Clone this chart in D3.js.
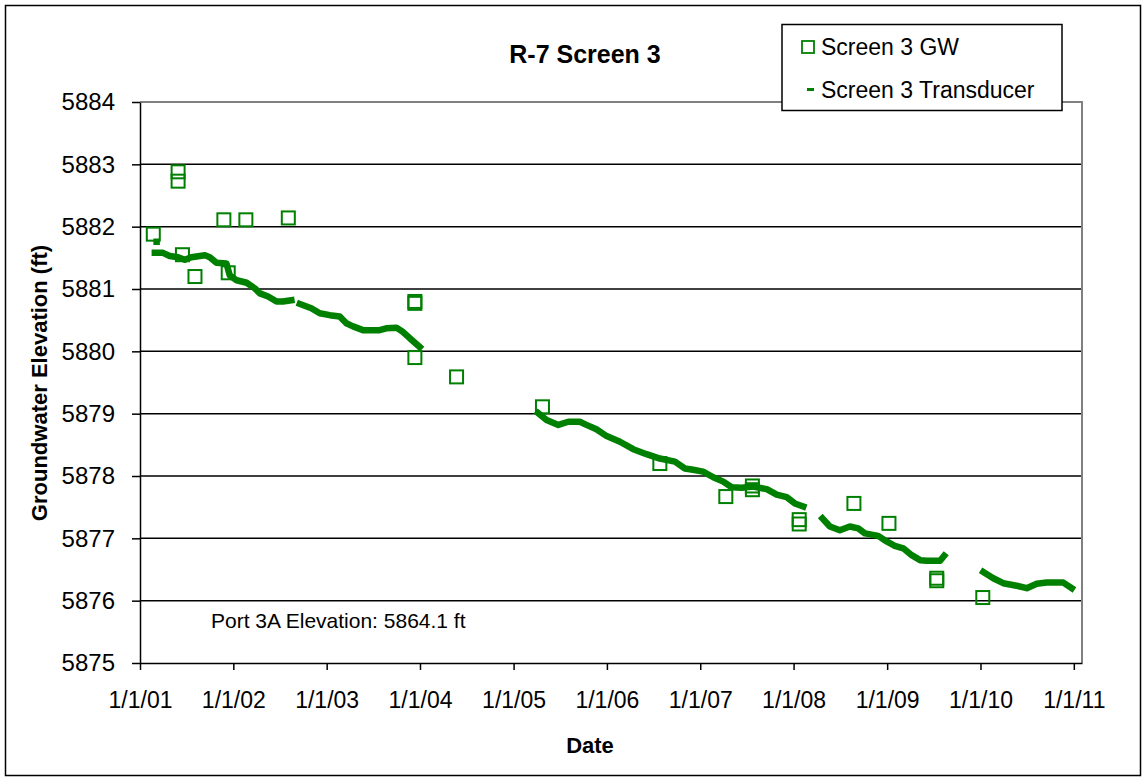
<!DOCTYPE html>
<html>
<head>
<meta charset="utf-8">
<script src="https://cdn.jsdelivr.net/npm/d3@7"></script>
<style>
  body { margin: 0; background: #fff; }
  text { font-family: Arial, "Liberation Sans", sans-serif; fill: #000; }
</style>
</head>
<body>
<svg id="chart" width="1146" height="781"></svg>
<script>
// Screen 3 GW (manual measurements)
const gwDates = ['2001-02-22', '2001-05-30', '2001-05-30', '2001-06-16', '2001-08-04', '2001-11-25',
    '2001-12-12', '2002-02-19', '2002-08-04', '2003-12-12', '2003-12-12', '2003-12-12', '2004-05-23',
    '2005-04-24', '2006-07-27', '2007-04-11', '2007-07-24', '2007-07-24', '2008-01-23', '2008-01-23',
    '2008-08-24', '2009-01-08', '2009-07-14', '2009-07-14', '2010-01-10']
const gwValues = [5881.88, 5882.88, 5882.73, 5881.55, 5881.20, 5882.11,
    5881.26, 5882.11, 5882.14, 5880.80, 5880.77, 5879.90, 5879.59,
    5879.11, 5878.20, 5877.67, 5877.84, 5877.78, 5877.30, 5877.23,
    5877.56, 5877.24, 5876.36, 5876.32, 5876.05]

// Screen 3 Transducer (null = no record)
const tdDates = ['2001-03-07', null,
    '2001-02-28', '2001-04-01', '2001-04-27', '2001-05-30', '2001-06-25', '2001-07-21', '2001-09-12',
    '2001-10-01', '2001-10-27', '2001-12-05', '2001-12-18', '2002-01-14', '2002-02-22', '2002-03-26',
    '2002-04-15', '2002-05-17', '2002-06-19', '2002-07-14', '2002-08-16', null,
    '2002-09-18', '2002-11-02', '2002-12-05', '2003-01-13', '2003-02-21', '2003-03-19', '2003-04-14',
    '2003-05-23', '2003-07-27', '2003-08-22', '2003-10-01', '2003-10-27', '2003-11-22', '2003-12-31', null,
    '2005-04-07', '2005-05-10', '2005-06-25', '2005-08-03', '2005-09-17', '2005-10-13', '2005-11-21',
    '2005-12-31', '2006-02-21', '2006-04-14', '2006-06-05', '2006-07-27', '2006-09-24', '2006-11-02',
    '2006-12-04', '2007-01-12', '2007-02-21', '2007-04-01', '2007-05-04', '2007-06-12', '2007-07-27',
    '2007-09-18', '2007-10-27', '2007-12-05', '2008-01-06', '2008-02-08', null,
    '2008-04-23', '2008-05-22', '2008-06-30', '2008-08-08', '2008-09-10', '2008-10-06', '2008-11-27',
    '2008-12-30', '2009-01-31', '2009-03-05', '2009-04-07', '2009-05-10', '2009-06-05', '2009-07-27',
    '2009-08-12', null,
    '2010-01-12', '2010-02-20', '2010-03-31', '2010-05-22', '2010-07-01', '2010-08-09', '2010-09-17',
    '2010-11-21', '2010-12-24']
const tdValues = [5881.76, null,
    5881.58, 5881.58, 5881.53, 5881.51, 5881.47, 5881.51, 5881.54,
    5881.51, 5881.42, 5881.41, 5881.22, 5881.14, 5881.10, 5881.01,
    5880.93, 5880.88, 5880.80, 5880.80, 5880.82, null,
    5880.76, 5880.69, 5880.61, 5880.58, 5880.56, 5880.45, 5880.40,
    5880.34, 5880.34, 5880.37, 5880.38, 5880.31, 5880.21, 5880.07, null,
    5879.01, 5878.90, 5878.82, 5878.87, 5878.87, 5878.82, 5878.75,
    5878.64, 5878.55, 5878.43, 5878.35, 5878.28, 5878.23, 5878.12,
    5878.10, 5878.07, 5877.98, 5877.91, 5877.82, 5877.81, 5877.83,
    5877.79, 5877.70, 5877.66, 5877.56, 5877.51, null,
    5877.32, 5877.19, 5877.13, 5877.19, 5877.16, 5877.08, 5877.04,
    5876.95, 5876.88, 5876.84, 5876.73, 5876.65, 5876.64, 5876.64,
    5876.72, null,
    5876.46, 5876.36, 5876.28, 5876.24, 5876.20, 5876.27, 5876.29,
    5876.29, 5876.20]

const yTicks = [5875, 5876, 5877, 5878, 5879, 5880, 5881, 5882, 5883, 5884]
const xTickYears = [2001, 2002, 2003, 2004, 2005, 2006, 2007, 2008, 2009, 2010, 2011]
const xStart = '2001-01-01'
const xEnd = '2011-02-02'

const GREEN = '#008000'
const plot = {left: 140, right: 1082, top: 102, bottom: 663}

const parse = d3.timeParse('%Y-%m-%d')
const svg = d3.select('#chart')

const x = d3.scaleTime()
    .domain([parse(xStart), parse(xEnd)])
    .range([plot.left, plot.right])

const y = d3.scaleLinear()
    .domain([yTicks[0], yTicks[yTicks.length - 1]])
    .range([plot.bottom, plot.top])

const gw = gwDates.map(function (d, i) { return {date: parse(d), value: gwValues[i]} })
const td = tdDates.map(function (d, i) { return {date: d ? parse(d) : null, value: tdValues[i]} })

// outer frame
svg.append('rect')
    .attr('x', 5.5).attr('y', 5.5)
    .attr('width', 1135).attr('height', 770)
    .attr('fill', '#fff')
    .attr('stroke', '#000')
    .attr('stroke-width', 1.5)

// gridlines
svg.append('g')
    .selectAll('line')
    .data(yTicks.slice(1, -1))
    .join('line')
    .attr('x1', plot.left).attr('x2', plot.right)
    .attr('y1', function (d) { return y(d) })
    .attr('y2', function (d) { return y(d) })
    .attr('stroke', '#000')
    .attr('stroke-width', 1.5)

// plot border top / right (grey)
svg.append('path')
    .attr('d', 'M' + plot.left + ',' + y(5884) + 'H' + plot.right + 'V' + plot.bottom)
    .attr('fill', 'none')
    .attr('stroke', '#808080')
    .attr('stroke-width', 2)

// axes
const xAxis = svg.append('g')
    .attr('transform', 'translate(0,' + plot.bottom + ')')
    .call(d3.axisBottom(x)
        .tickValues(xTickYears.map(function (yr) { return new Date(yr, 0, 1) }))
        .tickFormat(d3.timeFormat('%-m/%-d/%y'))
        .tickSize(7)
        .tickSizeOuter(0)
        .tickPadding(22))
xAxis.selectAll('text').attr('font-size', '23px').attr('font-family', 'Arial, "Liberation Sans", sans-serif')

const yAxis = svg.append('g')
    .attr('transform', 'translate(' + plot.left + ',0)')
    .call(d3.axisLeft(y)
        .tickValues(yTicks)
        .tickFormat(d3.format('d'))
        .tickSize(8)
        .tickSizeOuter(0)
        .tickPadding(17))
yAxis.selectAll('text').attr('font-size', '24px').attr('font-family', 'Arial, "Liberation Sans", sans-serif')

svg.selectAll('.domain, .tick line').attr('stroke', '#000').attr('stroke-width', 1.5)

// GW squares
svg.append('g')
    .selectAll('rect')
    .data(gw)
    .join('rect')
    .attr('x', function (d) { return x(d.date) - 6.5 })
    .attr('y', function (d) { return y(d.value) - 6.5 })
    .attr('width', 13).attr('height', 13)
    .attr('fill', 'none')
    .attr('stroke', GREEN)
    .attr('stroke-width', 2)

// transducer record
svg.append('path')
    .datum(td)
    .attr('fill', 'none')
    .attr('stroke', GREEN)
    .attr('stroke-width', 6.5)
    .attr('stroke-linejoin', 'round')
    .attr('stroke-linecap', 'square')
    .attr('d', d3.line()
        .defined(function (d) { return d.value !== null })
        .x(function (d) { return x(d.date) })
        .y(function (d) { return y(d.value) }))

// titles
svg.append('text')
    .attr('x', 585).attr('y', 63)
    .attr('text-anchor', 'middle')
    .attr('font-size', '25px').attr('font-weight', 'bold')
    .text('R-7 Screen 3')

svg.append('text')
    .attr('x', 590).attr('y', 753)
    .attr('text-anchor', 'middle')
    .attr('font-size', '22px').attr('font-weight', 'bold')
    .text('Date')

svg.append('text')
    .attr('transform', 'translate(47,383) rotate(-90)')
    .attr('text-anchor', 'middle')
    .attr('font-size', '22px').attr('font-weight', 'bold')
    .text('Groundwater Elevation (ft)')

svg.append('text')
    .attr('x', 211).attr('y', 628)
    .attr('font-size', '21px')
    .text('Port 3A Elevation: 5864.1 ft')

// legend
const legend = svg.append('g')
legend.append('rect')
    .attr('x', 782).attr('y', 24.5)
    .attr('width', 280).attr('height', 86)
    .attr('fill', '#fff')
    .attr('stroke', '#000')
    .attr('stroke-width', 1.5)
legend.append('rect')
    .attr('x', 802).attr('y', 41)
    .attr('width', 12).attr('height', 12)
    .attr('fill', 'none')
    .attr('stroke', GREEN)
    .attr('stroke-width', 1.8)
legend.append('rect')
    .attr('x', 807).attr('y', 88)
    .attr('width', 7).attr('height', 3)
    .attr('fill', GREEN)
legend.append('text')
    .attr('x', 821).attr('y', 55)
    .attr('font-size', '23px')
    .text('Screen 3 GW')
legend.append('text')
    .attr('x', 821).attr('y', 98)
    .attr('font-size', '23px')
    .text('Screen 3 Transducer')
</script>
</body>
</html>
